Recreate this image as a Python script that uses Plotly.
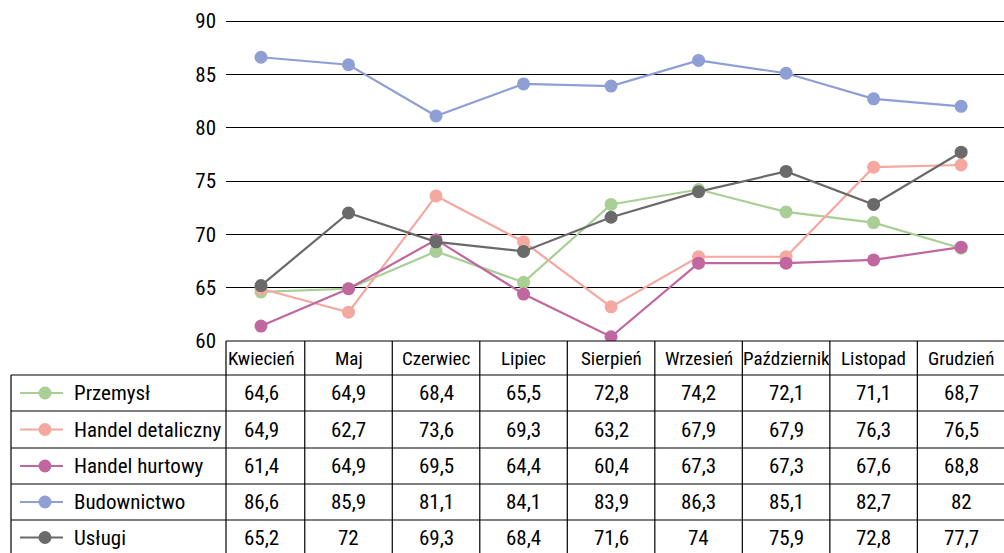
import plotly.graph_objects as go

# Months (columns of the data table / category axis)
months = ["Kwiecień", "Maj", "Czerwiec", "Lipiec", "Sierpień", "Wrzesień",
          "Październik", "Listopad", "Grudzień"]

# Series
series_names = ["Przemysł", "Handel detaliczny", "Handel hurtowy", "Budownictwo", "Usługi"]
przemysl = [64.6, 64.9, 68.4, 65.5, 72.8, 74.2, 72.1, 71.1, 68.7]
handel_detaliczny = [64.9, 62.7, 73.6, 69.3, 63.2, 67.9, 67.9, 76.3, 76.5]
handel_hurtowy = [61.4, 64.9, 69.5, 64.4, 60.4, 67.3, 67.3, 67.6, 68.8]
budownictwo = [86.6, 85.9, 81.1, 84.1, 83.9, 86.3, 85.1, 82.7, 82]
uslugi = [65.2, 72, 69.3, 68.4, 71.6, 74, 75.9, 72.8, 77.7]

# Y axis ticks
y_ticks = [60, 65, 70, 75, 80, 85, 90]

series_values = [przemysl, handel_detaliczny, handel_hurtowy, budownictwo, uslugi]
colors = ["#A9CF95", "#F4A8A0", "#C0679F", "#8E9FD5", "#6A6A6A"]

W, H = 1004, 553
FONT = "Roboto Condensed, DejaVu Sans Condensed, Liberation Sans Narrow, Roboto, sans-serif"


def px_x(p):
    return p / W


def px_y(p):
    return 1 - p / H


def fmt(v):
    s = ("%.1f" % v).rstrip("0").rstrip(".")
    return s.replace(".", ",")


x_idx = list(range(len(months)))

fig = go.Figure()
for name, vals, col in zip(series_names, series_values, colors):
    fig.add_trace(go.Scatter(
        x=x_idx, y=vals, name=name, mode="lines+markers",
        line=dict(color=col, width=2.2),
        marker=dict(color=col, size=13),
        showlegend=False, hoverinfo="skip",
    ))

# plot area in pixels; a small headroom above 90 keeps its gridline visible
plot_left, plot_bottom = 226, 341
px_per_unit = 320 / 30
y_top_val = 90.15
plot_top = plot_bottom - (y_top_val - 60) * px_per_unit

fig.update_layout(
    width=W, height=H,
    margin=dict(l=0, r=0, t=0, b=0, autoexpand=False),
    paper_bgcolor="white", plot_bgcolor="white",
    font=dict(family=FONT, size=19, color="black"),
    xaxis=dict(
        domain=[px_x(plot_left), 1.0],
        range=[-0.4, 8.49],
        showgrid=False, zeroline=False, showticklabels=False,
        showline=False, fixedrange=True, automargin=False,
    ),
    yaxis=dict(
        domain=[px_y(plot_bottom), px_y(plot_top)],
        range=[60, y_top_val],
        tickvals=y_ticks,
        ticktext=[str(t) for t in y_ticks],
        showgrid=True, gridcolor="black", gridwidth=1.2,
        zeroline=False, showline=False,
        ticks="", ticklabelstandoff=9,
        tickfont=dict(family=FONT, size=21),
        fixedrange=True, automargin=False,
    ),
)

# ---- data table below the plot ----
header_top = 341
row_edges = [375, 411, 448, 484, 520, 556]
table_left = 11
line_style = dict(color="black", width=1.2)

shapes = []
annotations = []

# horizontal lines
shapes.append(dict(type="line", xref="paper", yref="paper",
                   x0=px_x(plot_left), x1=1.0, y0=px_y(header_top), y1=px_y(header_top),
                   line=line_style))
for ry in row_edges[:-1]:
    shapes.append(dict(type="line", xref="paper", yref="paper",
                       x0=px_x(table_left), x1=1.0, y0=px_y(ry), y1=px_y(ry),
                       line=line_style))

# vertical lines
shapes.append(dict(type="line", xref="paper", yref="paper",
                   x0=px_x(table_left), x1=px_x(table_left),
                   y0=px_y(row_edges[0]), y1=0, line=line_style))
shapes.append(dict(type="line", xref="paper", yref="paper",
                   x0=px_x(plot_left), x1=px_x(plot_left),
                   y0=px_y(header_top), y1=0, line=line_style))
for i in range(len(months)):
    xb = i + 0.5
    shapes.append(dict(type="line", xref="x", yref="paper",
                       x0=xb, x1=xb, y0=px_y(header_top), y1=0, line=line_style))

# header labels
for i, m in enumerate(months):
    annotations.append(dict(x=i, y=px_y((header_top + row_edges[0]) / 2),
                            xref="x", yref="paper", text=m, showarrow=False,
                            xanchor="center", yanchor="middle",
                            font=dict(family=FONT, size=19)))

# rows: legend key + values
for r, (name, vals, col) in enumerate(zip(series_names, series_values, colors)):
    yc = (row_edges[r] + row_edges[r + 1]) / 2
    if r == len(series_names) - 1:
        yc = (row_edges[r] + H) / 2 + 1
    shapes.append(dict(type="line", xref="paper", yref="paper",
                       x0=px_x(20), x1=px_x(63), y0=px_y(yc), y1=px_y(yc),
                       line=dict(color=col, width=2.2)))
    shapes.append(dict(type="circle", xref="paper", yref="paper",
                       xsizemode="pixel", ysizemode="pixel",
                       xanchor=px_x(45), yanchor=px_y(yc),
                       x0=-6.5, x1=6.5, y0=-6.5, y1=6.5,
                       fillcolor=col, line=dict(color=col, width=0)))
    annotations.append(dict(x=px_x(72), y=px_y(yc), xref="paper", yref="paper",
                            text=name, showarrow=False, xanchor="left",
                            yanchor="middle", font=dict(family=FONT, size=21)))
    for i, v in enumerate(vals):
        annotations.append(dict(x=i, y=px_y(yc), xref="x", yref="paper",
                                text=fmt(v), showarrow=False, xanchor="center",
                                yanchor="middle", font=dict(family=FONT, size=21)))

fig.update_layout(shapes=shapes, annotations=annotations)

fig.write_html("out.html")
